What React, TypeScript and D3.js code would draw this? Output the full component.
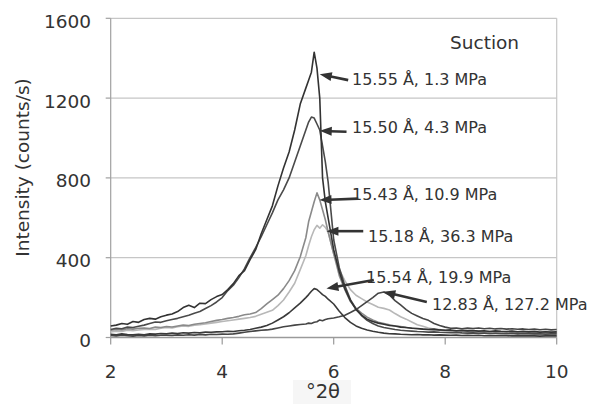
// XRD patterns of a smectite at several suctions: intensity vs 2θ,
// with d-spacing / suction call-outs pointing at each basal peak.
import * as d3 from "d3";

const twoTheta = [
  2.0, 2.1, 2.2, 2.3, 2.4, 2.5, 2.6, 2.7, 2.8, 2.9,
  3.0, 3.1, 3.2, 3.3, 3.4, 3.5, 3.6, 3.7, 3.8, 3.9,
  4.0, 4.1, 4.2, 4.3, 4.4, 4.5, 4.6, 4.7, 4.8, 4.9,
  5.0, 5.1, 5.2, 5.3, 5.4, 5.5,
  5.55, 5.6, 5.65, 5.7,
  5.75, 5.8, 5.85, 5.9,
  6.0, 6.1, 6.2, 6.3, 6.4, 6.5, 6.6, 6.7, 6.8, 6.9,
  7.0, 7.1, 7.2, 7.3, 7.4, 7.5, 7.6, 7.7, 7.8, 7.9,
  8.0, 8.1, 8.2, 8.3, 8.4, 8.5, 8.6, 8.7, 8.8, 8.9,
  9.0, 9.1, 9.2, 9.3, 9.4, 9.5, 9.6, 9.7, 9.8, 9.9, 10.0,
];

const mpa1_3 = [
  58, 62, 70, 66, 80, 76, 90, 96, 92, 104,
  112, 118, 130, 150, 162, 150, 172, 170, 190, 205,
  215, 240, 270, 310, 335, 390, 440, 520, 590, 660,
  760, 850, 930, 1040, 1170, 1250,
  1290, 1330, 1430, 1350,
  1200, 800, 680, 600,
  440, 330, 245, 185, 140, 112, 92, 80, 72, 66,
  60, 58, 52, 50, 46, 45, 42, 40, 42, 38,
  36, 38, 34, 36, 33, 35, 32, 34, 30, 33,
  31, 30, 32, 29, 31, 28, 30, 27, 29, 27, 28,
];

const mpa4_3 = [
  40, 46, 44, 52, 50, 56, 62, 70, 78, 76,
  84, 90, 96, 104, 112, 122, 130, 145, 160, 178,
  200, 235, 262, 300, 345, 400, 450, 505, 565, 625,
  690, 740, 800, 880, 960, 1040,
  1080, 1105, 1100, 1070,
  1040, 960, 880, 780,
  490, 350, 260, 190, 145, 110, 86, 70, 58, 50,
  45, 40, 36, 34, 32, 30, 29, 27, 28, 26,
  25, 24, 25, 23, 22, 23, 21, 22, 20, 21,
  20, 19, 21, 18, 20, 19, 18, 19, 17, 18, 18,
];

const mpa10_9 = [
  36, 40, 38, 44, 42, 46, 48, 45, 52, 50,
  55, 53, 58, 63, 60, 66, 70, 74, 80, 86,
  90, 96, 100, 106, 114, 118, 125, 145, 168, 190,
  212, 245, 285, 335, 405, 500,
  580, 630, 680, 725,
  690, 640, 590, 530,
  420, 310, 240, 180, 146, 122, 102, 88, 76, 70,
  64, 58, 55, 50, 48, 44, 42, 40, 38, 36,
  35, 33, 34, 31, 32, 30, 31, 29, 30, 28,
  29, 27, 28, 26, 28, 25, 27, 24, 26, 25, 25,
];

const mpa36_3 = [
  28, 32, 30, 36, 34, 38, 40, 42, 40, 46,
  50, 48, 54, 58, 56, 62, 64, 68, 72, 76,
  80, 84, 88, 92, 96, 100, 106, 116, 126, 136,
  160, 188, 228, 272, 340, 410,
  460, 505, 540, 562,
  548, 565, 552, 530,
  420, 340, 285, 240, 212, 195, 178, 165, 152, 146,
  138, 120, 104, 92, 78, 64, 56, 48, 42, 40,
  36, 34, 32, 30, 28, 27, 25, 24, 22, 21,
  20, 19, 18, 18, 17, 16, 17, 15, 16, 15, 15,
];

const mpa19_9 = [
  16, 14, 18, 15, 13, 16, 14, 18, 17, 20,
  19, 22, 20, 24, 22, 25, 23, 27, 26, 28,
  29, 31, 30, 34, 36, 40, 46, 52, 60, 72,
  88, 104, 124, 148, 172, 200,
  215, 232, 245, 240,
  228, 215, 206, 192,
  168, 132, 100, 76, 58, 46, 38, 31, 26, 22,
  19, 18, 16, 15, 14, 15, 13, 14, 12, 13,
  12, 11, 12, 10, 11, 10, 11, 9, 10, 9,
  10, 9, 8, 9, 8, 9, 8, 7, 8, 8, 8,
];

const mpa127_2 = [
  10, 8, 11, 9, 7, 10, 8, 12, 9, 11,
  12, 10, 13, 11, 14, 12, 15, 13, 16, 15,
  17, 16, 18, 22, 26, 30, 33, 36, 38, 42,
  48, 54, 58, 62, 65, 68,
  72, 70, 76, 79,
  88, 84, 90, 94,
  98, 104, 112, 125, 140, 160, 180, 200, 222, 228,
  213, 185, 163, 140, 121, 108, 95, 86, 70, 60,
  52, 46, 48, 44, 47, 45, 48, 44, 46, 43,
  45, 42, 44, 41, 43, 40, 42, 39, 41, 38, 40,
];

const yTicks = [0, 400, 800, 1200, 1600];
const xTicks = [2, 4, 6, 8, 10];

// drawing order: light first, darkest on top
const series = [
  { values: mpa36_3, color: "#b8b8b8" },
  { values: mpa10_9, color: "#8a8a8a" },
  { values: mpa127_2, color: "#454545" },
  { values: mpa19_9, color: "#3a3a3a" },
  { values: mpa4_3, color: "#4a4a4a" },
  { values: mpa1_3, color: "#333333" },
];

// call-outs: text position in px, arrow tail/tip in data units
const callouts = [
  { text: "15.55 Å, 1.3 MPa", tx: 352, ty: 85, from: [6.26, 1290], to: [5.75, 1320] },
  { text: "15.50 Å, 4.3 MPa", tx: 352, ty: 133, from: [6.23, 1031], to: [5.75, 1036] },
  { text: "15.43 Å, 10.9 MPa", tx: 352, ty: 200, from: [6.44, 696], to: [5.745, 689] },
  { text: "15.18 Å, 36.3 MPa", tx: 368, ty: 242, from: [6.53, 533], to: [5.87, 533] },
  { text: "15.54 Å, 19.9 MPa", tx: 366, ty: 283, from: [6.72, 288], to: [5.87, 245] },
  { text: "12.83 Å, 127.2 MPa", tx: 432, ty: 310, from: [7.67, 178], to: [6.89, 229] },
];

const FONT = "'DejaVu Sans', Verdana, sans-serif";

function Arrow({ x1, y1, x2, y2 }: { x1: number; y1: number; x2: number; y2: number }) {
  const dx = x2 - x1;
  const dy = y2 - y1;
  const len = Math.hypot(dx, dy);
  const ux = dx / len;
  const uy = dy / len;
  const headL = 12;
  const headW = 4.5;
  const bx = x2 - ux * headL;
  const by = y2 - uy * headL;
  const pts = [
    [x2, y2],
    [bx - uy * headW, by + ux * headW],
    [bx + uy * headW, by - ux * headW],
  ];
  return (
    <g>
      <line x1={x1} y1={y1} x2={bx + ux * 2} y2={by + uy * 2} stroke="#333" strokeWidth={2.6} />
      <polygon points={pts.map((p) => p.join(",")).join(" ")} fill="#333" />
    </g>
  );
}

export default function App() {
  const W = 591;
  const H = 404;
  const x = d3.scaleLinear().domain([2, 10]).range([110.7, 556.7]);
  const y = d3.scaleLinear().domain([0, 1600]).range([337.5, 18.3]);
  const line = d3
    .line<number>()
    .x((_, i) => x(twoTheta[i]))
    .y((d) => y(d));

  const [x0, x1] = x.range();
  const [y0, y1] = y.range();

  return (
    <svg
      width={W}
      height={H}
      style={{ position: "absolute", left: 0, top: 0, background: "#fff" }}
      fontFamily={FONT}
    >
      {/* grid and frame */}
      {yTicks.slice(1).map((t) => (
        <line key={t} x1={x0} x2={x1} y1={y(t)} y2={y(t)} stroke="#c6c6c6" strokeWidth={1.2} />
      ))}
      <line x1={x1} x2={x1} y1={y1} y2={y0} stroke="#c6c6c6" strokeWidth={1.2} />
      <line x1={x0} x2={x0} y1={y1} y2={y0} stroke="#a0a0a0" strokeWidth={1.2} />
      {yTicks.map((t) => (
        <line key={t} x1={x0 - 5} x2={x0} y1={y(t)} y2={y(t)} stroke="#a0a0a0" strokeWidth={1.2} />
      ))}
      <line x1={x0} x2={x1} y1={y0} y2={y0} stroke="#9a9a9a" strokeWidth={1.3} />
      {xTicks.map((t) => (
        <line key={t} x1={x(t)} x2={x(t)} y1={y0} y2={y0 + 7} stroke="#9a9a9a" strokeWidth={1.2} />
      ))}

      {/* tick labels */}
      {yTicks.map((t) => (
        <text key={t} x={91} y={y(t) + 3} dy="0.35em" textAnchor="end" fontSize={18.5} fill="#333">
          {t}
        </text>
      ))}
      {xTicks.map((t) => (
        <text key={t} x={x(t)} y={378} textAnchor="middle" fontSize={18.5} fill="#333">
          {t}
        </text>
      ))}

      {/* axis titles */}
      <text
        transform="translate(29,167.5) rotate(-90)"
        textAnchor="middle"
        fontSize={18.5}
        fill="#333"
      >
        Intensity (counts/s)
      </text>
      <rect x={293} y={380} width={58} height={24} fill="#f6f6f6" />
      <text x={323} y={398} textAnchor="middle" fontSize={19.5} fill="#333">
        °2θ
      </text>

      {/* patterns */}
      {series.map((s, i) => (
        <path
          key={i}
          d={line(s.values) ?? ""}
          fill="none"
          stroke={s.color}
          strokeWidth={1.6}
          strokeLinejoin="round"
        />
      ))}

      {/* call-outs */}
      <text x={450} y={49} fontSize={18.5} fill="#333">
        Suction
      </text>
      {callouts.map((c) => (
        <g key={c.text}>
          <text x={c.tx} y={c.ty} fontSize={16} fill="#333">
            {c.text}
          </text>
          <Arrow x1={x(c.from[0])} y1={y(c.from[1])} x2={x(c.to[0])} y2={y(c.to[1])} />
        </g>
      ))}
    </svg>
  );
}
